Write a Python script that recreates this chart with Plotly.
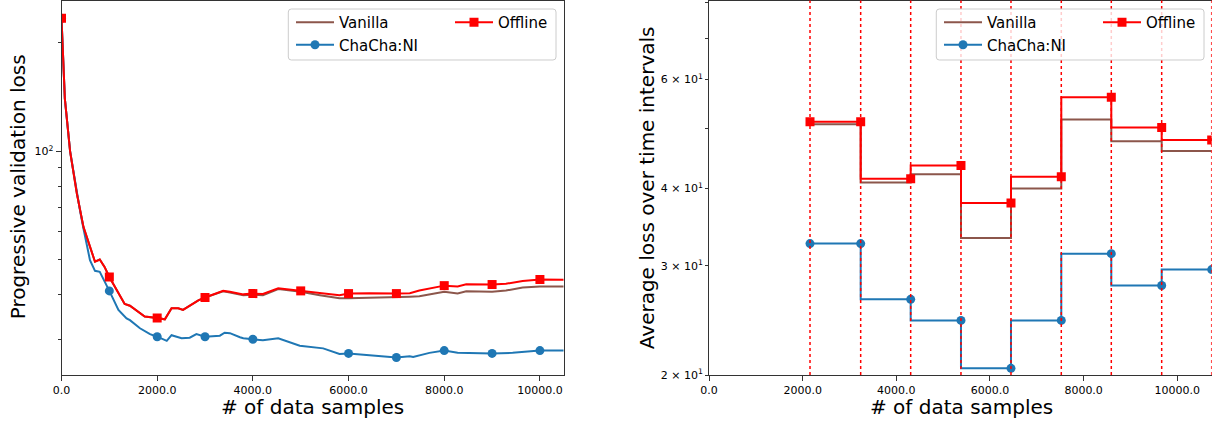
import math
import plotly.graph_objects as go

# ---------------- Data: left panel (progressive validation loss) ----------------
samples_x = [0, 40, 70, 180, 320, 460, 630, 700, 800, 900, 1000, 1150, 1320, 1430, 1570,
             1740, 2000, 2160, 2300, 2440, 2540, 2750, 2860, 3000, 3170, 3380, 3520, 3730,
             3800, 4000, 4210, 4530, 5000, 5400, 5810, 6000, 6440, 7000, 7280, 7480, 8000,
             8280, 8460, 9000, 9290, 9640, 10000, 10500]
offline_loss = [234, 172, 140, 100, 76.5, 61.6, 52.1, 49.4, 50.1, 47.8, 44.8, 41.2, 37.7, 37.3, 36.1,
                34.8, 34.5, 34.2, 36.7, 36.7, 36.3, 37.7, 38.6, 39.3, 40.1, 41.0, 40.8, 40.3,
                40.1, 40.3, 40.2, 41.7, 41.0, 40.3, 39.9, 40.3, 40.4, 40.3, 40.4, 41.1, 42.4,
                42.2, 42.8, 42.7, 42.9, 43.7, 44.1, 44.0]
vanilla_loss = [234, 172, 140, 100, 76.5, 61.6, 52.1, 49.4, 50.1, 47.8, 44.8, 41.2, 37.7, 37.3, 36.1,
                34.8, 34.5, 34.2, 36.7, 36.7, 36.3, 37.7, 38.6, 39.3, 40.0, 40.9, 40.6, 40.0,
                39.9, 40.0, 39.9, 41.5, 40.8, 39.9, 39.1, 39.1, 39.2, 39.3, 39.5, 39.6, 40.8,
                40.3, 40.9, 40.8, 41.1, 41.9, 42.2, 42.2]
chacha_x = [0, 40, 70, 180, 320, 386, 460, 595, 700, 800, 1000, 1190, 1360, 1430, 1640, 1850,
            2000, 2200, 2300, 2510, 2680, 2820, 3000, 3310, 3410, 3520, 3730, 3800, 4000, 4210,
            4530, 4980, 5470, 5810, 6000, 6440, 7000, 7280, 7350, 7690, 8000, 8280, 8670, 9000,
            9430, 10000, 10500]
chacha_loss = [234, 172, 140, 100, 76, 68.6, 61, 49.9, 46.6, 46.3, 41.0, 36.3, 34.4, 34.0, 32.3, 31.1,
               30.6, 29.8, 30.9, 30.3, 30.4, 31.1, 30.6, 30.8, 31.4, 31.3, 30.5, 30.3, 30.1, 29.9,
               30.3, 28.9, 28.4, 27.4, 27.5, 27.2, 26.8, 27.0, 26.9, 27.6, 28.0, 27.6, 27.5, 27.5,
               27.6, 28.0, 28.0]
mark_every = 1000

# ---------------- Data: right panel (average loss over time intervals) ----------------
interval_x = [2157, 3239, 4307, 5381, 6449, 7523, 8591, 9667, 10735]
interval_offline = [51.3, 51.3, 41.5, 43.6, 37.9, 41.8, 56.2, 50.2, 47.9]
interval_vanilla = [50.8, 50.8, 40.9, 42.2, 33.3, 40.0, 51.7, 47.7, 46.0]
interval_chacha = [32.6, 32.6, 26.5, 24.5, 20.5, 24.5, 31.4, 27.9, 29.6]

x_ticks = [0, 2000, 4000, 6000, 8000, 10000]

# ---------------- Styles ----------------
W, H = 1212, 423
BROWN, BLUE, RED = "#8c564b", "#1f77b4", "#ff0000"
FONT = "DejaVu Sans"
LW = 2


def px_x(p):
    return p / W


def px_y(p):
    return (H - p) / H


fig = go.Figure()

# left panel lines
fig.add_trace(go.Scatter(x=samples_x, y=vanilla_loss, mode="lines", line=dict(color=BROWN, width=LW),
                         showlegend=False, xaxis="x", yaxis="y"))
fig.add_trace(go.Scatter(x=chacha_x, y=chacha_loss, mode="lines", line=dict(color=BLUE, width=LW),
                         showlegend=False, xaxis="x", yaxis="y"))
cm = [(a, b) for a, b in zip(chacha_x, chacha_loss) if a % mark_every == 0]
fig.add_trace(go.Scatter(x=[a for a, _ in cm], y=[b for _, b in cm], mode="markers",
                         marker=dict(color=BLUE, size=9, symbol="circle"),
                         showlegend=False, xaxis="x", yaxis="y"))
fig.add_trace(go.Scatter(x=samples_x, y=offline_loss, mode="lines", line=dict(color=RED, width=LW),
                         showlegend=False, xaxis="x", yaxis="y"))
om = [(a, b) for a, b in zip(samples_x, offline_loss) if a % mark_every == 0]
fig.add_trace(go.Scatter(x=[a for a, _ in om], y=[b for _, b in om], mode="markers",
                         marker=dict(color=RED, size=9, symbol="square"),
                         showlegend=False, xaxis="x", yaxis="y"))

# right panel steps
fig.add_trace(go.Scatter(x=interval_x, y=interval_vanilla, mode="lines", line=dict(color=BROWN, width=LW, shape="vh"),
                         showlegend=False, xaxis="x2", yaxis="y2"))
fig.add_trace(go.Scatter(x=interval_x, y=interval_chacha, mode="lines+markers", line=dict(color=BLUE, width=LW, shape="vh"),
                         marker=dict(color=BLUE, size=9, symbol="circle"),
                         showlegend=False, xaxis="x2", yaxis="y2"))
fig.add_trace(go.Scatter(x=interval_x, y=interval_offline, mode="lines+markers", line=dict(color=RED, width=LW, shape="vh"),
                         marker=dict(color=RED, size=9, symbol="square"),
                         showlegend=False, xaxis="x2", yaxis="y2"))

# legend dummy traces
for xa, ya, l1, l2 in [("x", "y", "legend", "legend2"), ("x2", "y2", "legend3", "legend4")]:
    fig.add_trace(go.Scatter(x=[None], y=[None], mode="lines", name="Vanilla", line=dict(color=BROWN, width=LW),
                             legend=l1, legendgroup=l1 + "a", xaxis=xa, yaxis=ya))
    fig.add_trace(go.Scatter(x=[None], y=[None], mode="lines+markers", name="ChaCha:NI",
                             line=dict(color=BLUE, width=LW), marker=dict(color=BLUE, size=9, symbol="circle"),
                             legend=l1, legendgroup=l1 + "b", xaxis=xa, yaxis=ya))
    fig.add_trace(go.Scatter(x=[None], y=[None], mode="lines+markers", name="Offline",
                             line=dict(color=RED, width=LW), marker=dict(color=RED, size=9, symbol="square"),
                             legend=l2, legendgroup=l2 + "a", xaxis=xa, yaxis=ya))

shapes = []
for xv in interval_x:
    shapes.append(dict(type="line", xref="x2", yref="y2 domain", x0=xv, x1=xv, y0=0, y1=1,
                       line=dict(color=RED, width=1.5, dash="dot"), layer="above"))


def rounded_rect(x0, y0, x1, y1, r=3):
    X = lambda p: f"{px_x(p):.5f}"
    Y = lambda p: f"{px_y(p):.5f}"
    return (f"M{X(x0 + r)},{Y(y0)} L{X(x1 - r)},{Y(y0)} Q{X(x1)},{Y(y0)} {X(x1)},{Y(y0 + r)} "
            f"L{X(x1)},{Y(y1 - r)} Q{X(x1)},{Y(y1)} {X(x1 - r)},{Y(y1)} "
            f"L{X(x0 + r)},{Y(y1)} Q{X(x0)},{Y(y1)} {X(x0)},{Y(y1 - r)} "
            f"L{X(x0)},{Y(y0 + r)} Q{X(x0)},{Y(y0)} {X(x0 + r)},{Y(y0)} Z")


for off in (0, 648):
    shapes.append(dict(type="path", xref="paper", yref="paper", path=rounded_rect(288.3 + off, 9, 556 + off, 60),
                       line=dict(color="#cccccc", width=1), fillcolor="rgba(255,255,255,0.8)", layer="above"))

axis_common = dict(showgrid=False, zeroline=False, showline=True, mirror=True, linecolor="#333333", linewidth=1,
                   ticks="outside", tickcolor="#333333", automargin=False,
                   tickfont=dict(family=FONT, size=11, color="#000000"))

x_text = [f"{v:.1f}" for v in x_ticks]

left_minor = [30, 40, 50, 60, 70, 80, 90, 200]
right_vals = [20, 30, 40, 50, 60, 70, 80]
right_text = ["2 × 10<sup>1</sup>", "3 × 10<sup>1</sup>", "4 × 10<sup>1</sup>", "", "6 × 10<sup>1</sup>", "", ""]

fig.update_layout(
    template="none",
    width=W, height=H, margin=dict(l=0, r=0, t=0, b=0, pad=0, autoexpand=False),
    paper_bgcolor="white", plot_bgcolor="white",
    font=dict(family=FONT, color="#000000"),
    xaxis=dict(domain=[px_x(61.5), px_x(563.6)], range=[0, 10495], tickvals=x_ticks, ticktext=x_text,
               ticklen=5, anchor="y", **axis_common),
    yaxis=dict(domain=[px_y(375), px_y(0.5)], type="log", range=[math.log10(23.96), math.log10(262)],
               tickvals=[100], ticktext=["10<sup>2</sup>"], ticklen=5, anchor="x",
               minor=dict(tickmode="array", tickvals=left_minor, ticklen=3, tickcolor="#333333", ticks="outside"),
               **axis_common),
    xaxis2=dict(domain=[px_x(709), px_x(1211.7)], range=[0, 10735], tickvals=x_ticks, ticktext=x_text,
                ticklen=5, anchor="y2", **axis_common),
    yaxis2=dict(domain=[px_y(375), px_y(0.5)], type="log", range=[math.log10(20), math.log10(80.5)],
                tickvals=right_vals, ticktext=right_text, ticklen=3, anchor="x2", **axis_common),
    shapes=shapes,
)

leg_common = dict(bgcolor="rgba(0,0,0,0)", borderwidth=0, font=dict(family=FONT, size=15, color="#000000"),
                  xanchor="left", yanchor="top", tracegroupgap=0, itemclick=False, itemwidth=38)
fig.update_layout(
    legend=dict(x=px_x(291), y=px_y(6), **leg_common),
    legend2=dict(x=px_x(450), y=px_y(6), **leg_common),
    legend3=dict(x=px_x(939), y=px_y(6), **leg_common),
    legend4=dict(x=px_x(1098), y=px_y(6), **leg_common),
)

annos = [
    dict(text="Progressive validation loss", x=px_x(18.3), y=px_y(187), textangle=-90, font=dict(size=20)),
    dict(text="Average loss over time intervals", x=px_x(646.7), y=px_y(187.5), textangle=-90, font=dict(size=20)),
    dict(text="# of data samples", x=px_x(312.5), y=px_y(407), font=dict(size=20)),
    dict(text="# of data samples", x=px_x(961), y=px_y(407), font=dict(size=20)),
]
for a in annos:
    a.update(xref="paper", yref="paper", showarrow=False, xanchor="center", yanchor="middle")
    a["font"].update(family=FONT, color="#000000")
fig.update_layout(annotations=annos)

fig.write_html("out.html", config={"displayModeBar": False},
               post_script="document.body.style.margin='0';document.body.style.overflow='hidden';")
